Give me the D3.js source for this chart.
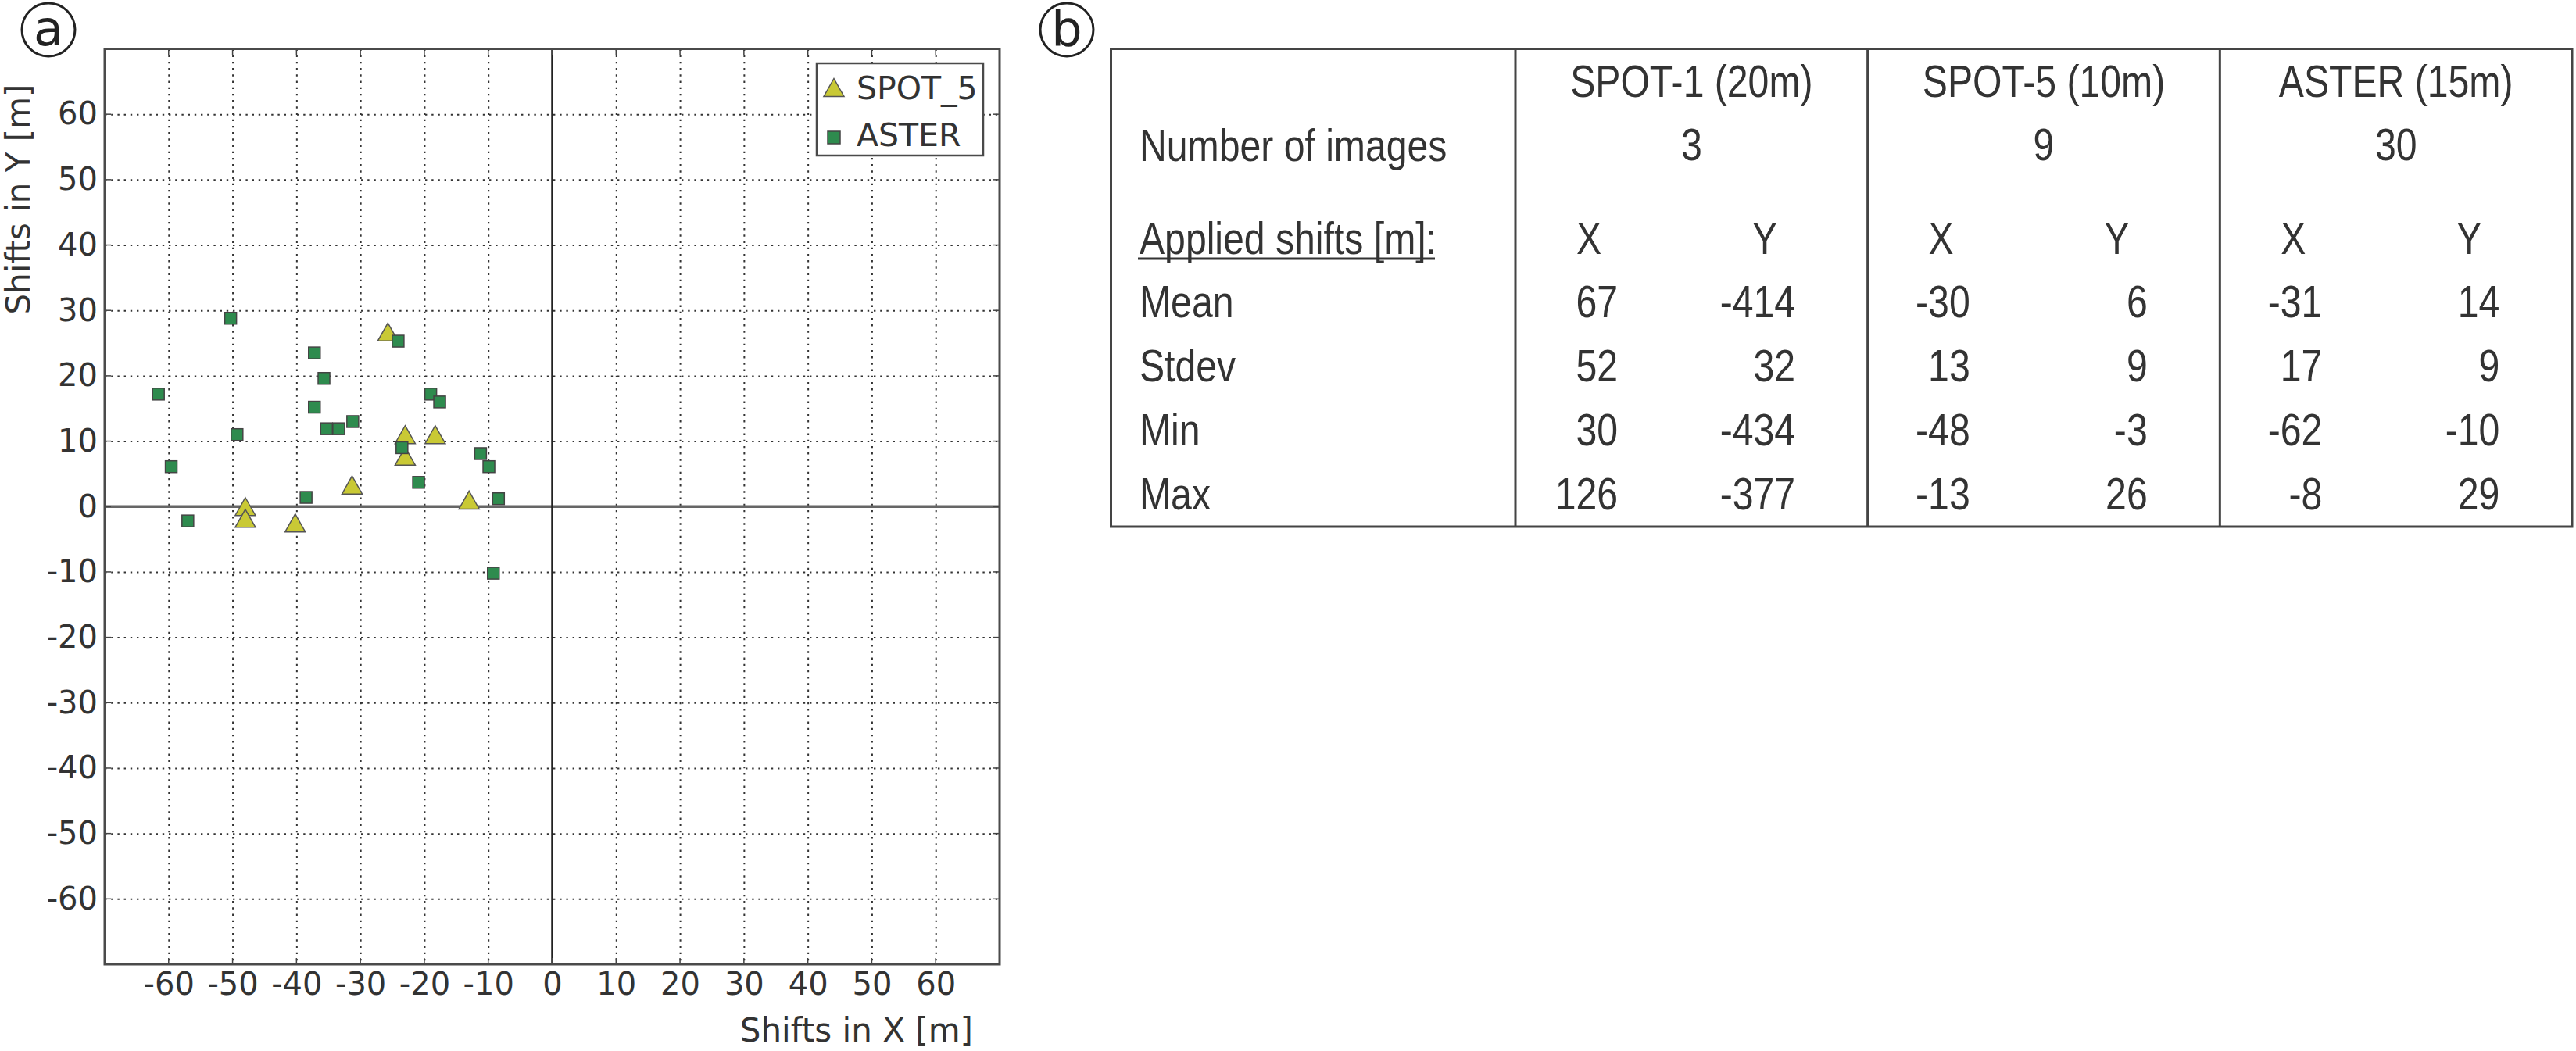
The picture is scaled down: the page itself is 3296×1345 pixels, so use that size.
<!DOCTYPE html>
<html>
<head>
<meta charset="utf-8">
<script src="https://cdn.jsdelivr.net/npm/d3@7"></script>
<style>
body{margin:0;background:#fff;}
</style>
</head>
<body>
<div id="chart-area"></div>
<script>
// scatter: shifts of the images
var spotX=[-25.7,-23.0,-18.3,-23.0,-31.3,-13.0,-48.0,-48.0,-40.2];
var spotY=[26.7,11.0,11.0,7.7,3.3,1.0,0.0,-1.8,-2.5];
var asterX=[-61.6,-59.6,-57.0,-50.3,-49.3,-37.2,-35.7,-37.2,-35.3,-33.4,-31.2,-38.5,-24.1,-23.5,-19.0,-17.6,-20.9,-11.2,-9.9,-8.4,-9.2];
var asterY=[17.2,6.1,-2.2,28.8,11.0,23.5,19.6,15.2,11.9,11.9,13.0,1.4,25.3,9.0,17.2,16.0,3.7,8.1,6.1,1.2,-10.2];
var tickVals=[-60,-50,-40,-30,-20,-10,0,10,20,30,40,50,60];
var seriesNames=["SPOT_5","ASTER"];

// table
var sensors=["SPOT-1 (20m)","SPOT-5 (10m)","ASTER (15m)"];
var imageCounts=[3,9,30];
var statNames=["Mean","Stdev","Min","Max"];
var spot1Stats={x:[67,52,30,126],y:[-414,32,-434,-377]};
var spot5Stats={x:[-30,13,-48,-13],y:[6,9,-3,26]};
var asterStats={x:[-31,17,-62,-8],y:[14,9,-10,29]};
var sensorStats=[spot1Stats,spot5Stats,asterStats];

var svg=d3.select("#chart-area").append("svg")
    .attr("width",3296)
    .attr("height",1345);

var pLeft=134, pRight=1279, pTop=62.5, pBottom=1234;
var dark="#333";
var font="'DejaVu Sans', sans-serif";

var x=d3.scaleLinear().domain([-70,70]).range([pLeft,pRight]);
var y=d3.scaleLinear().domain([-70,70]).range([pBottom,pTop]);

var g=svg.append("g");

// grid
g.append("g")
    .attr("transform","translate(0,"+pTop+")")
    .call(d3.axisBottom(x).tickValues(tickVals).tickSize(pBottom-pTop).tickFormat(""))
    .call(s=>s.select(".domain").remove())
    .selectAll("line")
        .attr("stroke","#333")
        .attr("stroke-width",2)
        .attr("stroke-dasharray","2.4,5.8");

g.append("g")
    .attr("transform","translate("+pLeft+",0)")
    .call(d3.axisRight(y).tickValues(tickVals).tickSize(pRight-pLeft).tickFormat(""))
    .call(s=>s.select(".domain").remove())
    .selectAll("line")
        .attr("stroke","#333")
        .attr("stroke-width",2)
        .attr("stroke-dasharray","2.4,5.8");

// zero lines
g.append("line")
    .attr("x1",x(-70)).attr("x2",x(70))
    .attr("y1",y(0)).attr("y2",y(0))
    .attr("stroke","#666")
    .attr("stroke-width",3.5);
g.append("line")
    .attr("x1",x(0)).attr("x2",x(0))
    .attr("y1",y(-70)).attr("y2",y(70))
    .attr("stroke","#222")
    .attr("stroke-width",2.5);

// tick labels (plain hyphen as in the figure)
var bottomAxis=g.append("g")
    .attr("transform","translate(0,"+pBottom+")")
    .call(d3.axisBottom(x).tickValues(tickVals).tickSize(0).tickPadding(11).tickFormat(d=>String(d)));
bottomAxis.select(".domain").remove();
bottomAxis.selectAll("text")
    .attr("font-family",font)
    .attr("font-size","40px")
    .attr("fill",dark);

var leftAxis=g.append("g")
    .attr("transform","translate("+pLeft+",0)")
    .call(d3.axisLeft(y).tickValues(tickVals).tickSize(0).tickPadding(9).tickFormat(d=>String(d)));
leftAxis.select(".domain").remove();
leftAxis.selectAll("text")
    .attr("font-family",font)
    .attr("font-size","40px")
    .attr("fill",dark);

// small inner ticks on the frame
tickVals.forEach(function(v){
    g.append("line").attr("x1",x(v)).attr("x2",x(v)).attr("y1",pBottom).attr("y2",pBottom-8).attr("stroke","#444").attr("stroke-width",1.5);
    g.append("line").attr("x1",x(v)).attr("x2",x(v)).attr("y1",pTop).attr("y2",pTop+8).attr("stroke","#444").attr("stroke-width",1.5);
    g.append("line").attr("y1",y(v)).attr("y2",y(v)).attr("x1",pLeft).attr("x2",pLeft+8).attr("stroke","#444").attr("stroke-width",1.5);
    g.append("line").attr("y1",y(v)).attr("y2",y(v)).attr("x1",pRight).attr("x2",pRight-8).attr("stroke","#444").attr("stroke-width",1.5);
});

// frame
g.append("rect")
    .attr("x",pLeft).attr("y",pTop)
    .attr("width",pRight-pLeft).attr("height",pBottom-pTop)
    .attr("fill","none")
    .attr("stroke","#4a4a4a")
    .attr("stroke-width",3);

// axis titles
g.append("text")
    .attr("x",1245)
    .attr("y",1333)
    .attr("text-anchor","end")
    .attr("font-family",font)
    .attr("font-size","42px")
    .attr("fill",dark)
    .text("Shifts in X [m]");

g.append("text")
    .attr("transform","translate(38,255) rotate(-90)")
    .attr("text-anchor","middle")
    .attr("font-family",font)
    .attr("font-size","42px")
    .attr("fill",dark)
    .text("Shifts in Y [m]");

// markers
var triangle="M0,-11.5L13,11.5L-13,11.5Z";
var spotColor="#c9c935", asterColor="#2e8b4e";

var spotData=spotX.map((d,i)=>({x:d,y:spotY[i]}));
var asterData=asterX.map((d,i)=>({x:d,y:asterY[i]}));

g.selectAll(".spot")
    .data(spotData)
    .enter().append("path")
    .attr("class","spot")
    .attr("d",triangle)
    .attr("transform",d=>"translate("+x(d.x)+","+y(d.y)+")")
    .attr("fill",spotColor)
    .attr("stroke","#555")
    .attr("stroke-width",1.5);

g.selectAll(".aster")
    .data(asterData)
    .enter().append("rect")
    .attr("class","aster")
    .attr("x",d=>x(d.x)-7.5)
    .attr("y",d=>y(d.y)-7.5)
    .attr("width",15)
    .attr("height",15)
    .attr("fill",asterColor)
    .attr("stroke","#444")
    .attr("stroke-width",1.5);

// legend
var legend=g.append("g");
legend.append("rect")
    .attr("x",1045).attr("y",81)
    .attr("width",213).attr("height",118)
    .attr("fill","#fff")
    .attr("stroke","#4a4a4a")
    .attr("stroke-width",2.5);
legend.append("path")
    .attr("d",triangle)
    .attr("transform","translate(1067,112)")
    .attr("fill",spotColor)
    .attr("stroke","#555")
    .attr("stroke-width",1.5);
legend.append("rect")
    .attr("x",1059).attr("y",168)
    .attr("width",16).attr("height",16)
    .attr("fill",asterColor)
    .attr("stroke","#444")
    .attr("stroke-width",1.5);
seriesNames.forEach(function(d,i){
    legend.append("text")
        .attr("x",1096)
        .attr("y",127+i*60)
        .attr("font-family",font)
        .attr("font-size","41px")
        .attr("fill",dark)
        .text(d);
});

// panel letters
[["a",62],["b",1365]].forEach(function(p){
    svg.append("circle")
        .attr("cx",p[1]).attr("cy",38).attr("r",34)
        .attr("fill","none")
        .attr("stroke","#222")
        .attr("stroke-width",3);
    svg.append("text")
        .attr("x",p[1]).attr("y",58)
        .attr("text-anchor","middle")
        .attr("font-family",font)
        .attr("font-size","62px")
        .attr("fill","#222")
        .text(p[0]);
});

// table
var tFont="'Liberation Sans', Arial, sans-serif";
var squeeze=0.845;
var tb=svg.append("g");

var tLeft=1421.5, tTop=62.5, tRight=3291, tBottom=674, labelRight=1939;
var col=d3.scaleBand().domain(sensors).range([labelRight,tRight]);
var statRow=d3.scalePoint().domain(statNames).range([406,652]);

tb.append("rect")
    .attr("x",tLeft).attr("y",tTop)
    .attr("width",tRight-tLeft).attr("height",tBottom-tTop)
    .attr("fill","none")
    .attr("stroke","#444")
    .attr("stroke-width",3);

sensors.forEach(function(s){
    tb.append("line")
        .attr("x1",col(s)).attr("x2",col(s))
        .attr("y1",tTop).attr("y2",tBottom)
        .attr("stroke","#444")
        .attr("stroke-width",3);
});

function tText(px,py,anchor,txt){
    return tb.append("text")
        .attr("transform","translate("+px+","+py+") scale("+squeeze+",1)")
        .attr("text-anchor",anchor)
        .attr("font-family",tFont)
        .attr("font-size","57px")
        .attr("fill",dark)
        .text(txt);
}

tText(1458,206,"start","Number of images");
tText(1458,325,"start","Applied shifts [m]:");
tb.append("line")
    .attr("x1",1456).attr("x2",1836)
    .attr("y1",331).attr("y2",331)
    .attr("stroke",dark)
    .attr("stroke-width",3);

statNames.forEach(function(n){
    tText(1458,statRow(n),"start",n);
});

sensors.forEach(function(s,i){
    var c=col(s), mid=c+col.bandwidth()/2;
    tText(mid,124,"middle",s);
    tText(mid,205,"middle",imageCounts[i]);
    tText(c+94,325,"middle","X");
    tText(c+319,325,"middle","Y");
    statNames.forEach(function(n,j){
        tText(c+131,statRow(n),"end",sensorStats[i].x[j]);
        tText(c+358,statRow(n),"end",sensorStats[i].y[j]);
    });
});
</script>
</body>
</html>
